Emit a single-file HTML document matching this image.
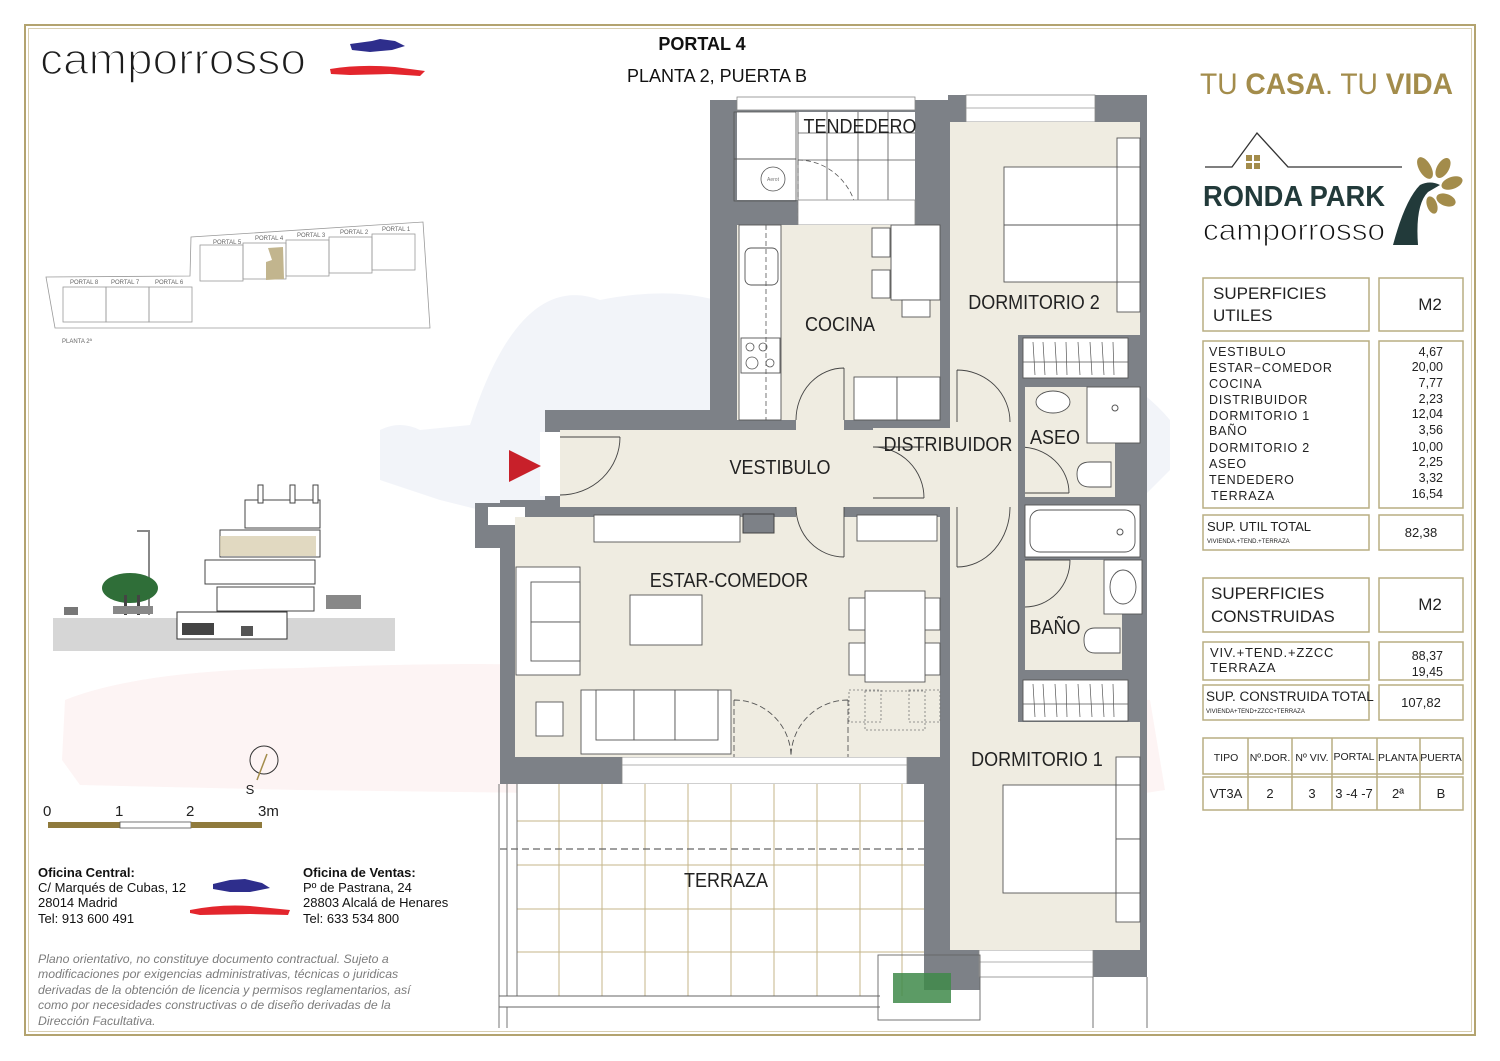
<!DOCTYPE html>
<html><head><meta charset="utf-8"><style>
html,body{margin:0;padding:0;background:#fff;}
svg{display:block;}
text{font-family:"Liberation Sans",sans-serif;}
</style></head><body>
<svg width="1500" height="1061" viewBox="0 0 1500 1061" xmlns="http://www.w3.org/2000/svg">
<rect width="1500" height="1061" fill="#fff"/>
<!-- faint watermarks -->
<path d="M380 430 Q400 420 420 430 L470 425 Q520 270 600 300 Q700 280 760 320 L800 300 L1000 330 Q1120 360 1170 420 L1170 470 L1140 500 L900 520 L520 520 L440 500 L380 480 Z" fill="#f2f4f9"/>
<path d="M65 700 Q140 670 300 668 Q500 660 600 668 L1150 700 L1165 790 L1100 800 L700 795 L300 790 L80 785 L62 760 Z" fill="#fdf4f4"/>
<!-- border -->
<rect x="25" y="25" width="1450" height="1010" fill="none" stroke="#b3a36f" stroke-width="2"/>
<rect x="28.5" y="28.5" width="1443" height="1003" fill="none" stroke="#d8ceb0" stroke-width="1"/>

<!-- header -->
<text x="40" y="74" font-size="44" fill="#1d1d1d" stroke="#fff" stroke-width="1.6" textLength="266" lengthAdjust="spacingAndGlyphs">camporrosso</text>
<path d="M350 44 L372 41 L380 39 L395 41 L405 46 L392 50 L370 52 L352 50 Z" fill="#2e2e8c"/>
<path d="M330 69 Q360 64 395 67 L425 71 L420 76 L390 74 L350 75 L331 74 Z" fill="#e3262d"/>
<text x="702" y="50" font-size="18" font-weight="bold" text-anchor="middle" fill="#111">PORTAL 4</text>
<text x="717" y="82" font-size="18" text-anchor="middle" fill="#111">PLANTA 2, PUERTA B</text>

<!-- right logo -->
<text x="1200" y="94" font-size="30" fill="#a38c4b" textLength="253" lengthAdjust="spacingAndGlyphs">TU <tspan font-weight="bold">CASA</tspan>. TU <tspan font-weight="bold">VIDA</tspan></text>
<polyline points="1205,167 1232,167 1257,133 1288,167 1402,167" fill="none" stroke="#333" stroke-width="1.3"/>
<rect x="1246" y="155" width="6" height="6" fill="#a38c4b"/><rect x="1254" y="155" width="6" height="6" fill="#a38c4b"/>
<rect x="1246" y="163" width="6" height="6" fill="#a38c4b"/><rect x="1254" y="163" width="6" height="6" fill="#a38c4b"/>
<text x="1203" y="206" font-size="29" font-weight="bold" fill="#223a3a" textLength="182" lengthAdjust="spacingAndGlyphs">RONDA PARK</text>
<text x="1203" y="240" font-size="30" fill="#111" stroke="#fff" stroke-width="1" textLength="182" lengthAdjust="spacingAndGlyphs">camporrosso</text>
<path d="M1393 245 Q1405 200 1420 185 Q1430 180 1440 185 L1428 192 Q1415 205 1418 245 Z" fill="#223a3a"/>
<ellipse cx="1425" cy="168" rx="6" ry="12" fill="#a38c4b" transform="rotate(-30 1425 168)"/>
<ellipse cx="1443" cy="168" rx="6" ry="11" fill="#a38c4b" transform="rotate(30 1443 168)"/>
<ellipse cx="1452" cy="183" rx="6" ry="11" fill="#a38c4b" transform="rotate(70 1452 183)"/>
<ellipse cx="1446" cy="200" rx="6" ry="10" fill="#a38c4b" transform="rotate(110 1446 200)"/>
<ellipse cx="1432" cy="205" rx="5" ry="9" fill="#a38c4b" transform="rotate(160 1432 205)"/>

<!-- tables -->
<g fill="none" stroke="#b9ad82" stroke-width="1.5">
<rect x="1203" y="278" width="166" height="53"/><rect x="1379" y="278" width="84" height="53"/>
<rect x="1203" y="341" width="166" height="167"/><rect x="1379" y="341" width="84" height="167"/>
<rect x="1203" y="515" width="166" height="35"/><rect x="1379" y="515" width="84" height="35"/>
<rect x="1203" y="578" width="166" height="54"/><rect x="1379" y="578" width="84" height="54"/>
<rect x="1203" y="642" width="166" height="38"/><rect x="1379" y="642" width="84" height="38"/>
<rect x="1203" y="685" width="166" height="35"/><rect x="1379" y="685" width="84" height="35"/>
<rect x="1203" y="738" width="260" height="36"/><rect x="1203" y="777" width="260" height="33"/>
<path d="M1248 738V810M1292 738V810M1332 738V810M1377 738V810M1420 738V810"/>
</g>
<g fill="#222">
<text x="1213" y="299" font-size="17">SUPERFICIES</text>
<text x="1213" y="321" font-size="17">UTILES</text>
<text x="1430" y="310" font-size="17" text-anchor="middle">M2</text>
<g font-size="12.5" letter-spacing="0.8">
<text x="1209" y="356">VESTIBULO</text><text x="1209" y="372">ESTAR−COMEDOR</text><text x="1209" y="388">COCINA</text>
<text x="1209" y="404">DISTRIBUIDOR</text><text x="1209" y="420">DORMITORIO  1</text><text x="1209" y="435">BAÑO</text>
<text x="1209" y="452">DORMITORIO  2</text><text x="1209" y="468">ASEO</text><text x="1209" y="484">TENDEDERO</text><text x="1211" y="500">TERRAZA</text>
</g>
<g font-size="12.5" text-anchor="end">
<text x="1443" y="356">4,67</text><text x="1443" y="371">20,00</text><text x="1443" y="387">7,77</text><text x="1443" y="403">2,23</text>
<text x="1443" y="418">12,04</text><text x="1443" y="434">3,56</text><text x="1443" y="451">10,00</text><text x="1443" y="466">2,25</text>
<text x="1443" y="482">3,32</text><text x="1443" y="498">16,54</text>
</g>
<text x="1207" y="531" font-size="13">SUP. UTIL TOTAL</text>
<text x="1207" y="543" font-size="6">VIVIENDA.+TEND.+TERRAZA</text>
<text x="1421" y="537" font-size="13" text-anchor="middle">82,38</text>
<text x="1211" y="599" font-size="17">SUPERFICIES</text>
<text x="1211" y="622" font-size="17">CONSTRUIDAS</text>
<text x="1430" y="610" font-size="17" text-anchor="middle">M2</text>
<text x="1210" y="657" font-size="13" letter-spacing="0.8">VIV.+TEND.+ZZCC</text>
<text x="1210" y="672" font-size="13" letter-spacing="0.8">TERRAZA</text>
<text x="1443" y="660" font-size="12.5" text-anchor="end">88,37</text>
<text x="1443" y="676" font-size="12.5" text-anchor="end">19,45</text>
<text x="1206" y="701" font-size="13.5">SUP. CONSTRUIDA TOTAL</text>
<text x="1206" y="713" font-size="6">VIVIENDA+TEND+ZZCC+TERRAZA</text>
<text x="1421" y="707" font-size="13" text-anchor="middle">107,82</text>
<g font-size="10.5" text-anchor="middle">
<text x="1226" y="761">TIPO</text><text x="1270" y="761">Nº.DOR.</text><text x="1312" y="761">Nº VIV.</text>
<text x="1354" y="760">PORTAL</text><text x="1398" y="761">PLANTA</text><text x="1441" y="761">PUERTA</text>
</g>
<g font-size="13" text-anchor="middle">
<text x="1226" y="798">VT3A</text><text x="1270" y="798">2</text><text x="1312" y="798">3</text>
<text x="1354" y="798">3 -4 -7</text><text x="1398" y="798">2ª</text><text x="1441" y="798">B</text>
</g>
</g>

<!-- mini site plan -->
<g fill="none" stroke="#9a9a9a" stroke-width="0.8">
<polygon points="46,277 190,276 191,237 423,222 430,328 55,328"/>
<rect x="63" y="287" width="43" height="35"/><rect x="106" y="287" width="43" height="35"/><rect x="149" y="287" width="43" height="35"/>
<rect x="200" y="245" width="43" height="36"/><rect x="243" y="243" width="43" height="36"/><rect x="286" y="240" width="43" height="36"/><rect x="329" y="237" width="43" height="36"/><rect x="372" y="234" width="43" height="36"/>
</g>
<path d="M268 248 L283 247 L284 279 L266 280 L266 262 L272 260 Z" fill="#c2b58e"/>
<g font-size="6" fill="#666">
<text x="70" y="284">PORTAL 8</text><text x="111" y="284">PORTAL 7</text><text x="155" y="284">PORTAL 6</text>
<text x="213" y="244">PORTAL 5</text><text x="255" y="240">PORTAL 4</text><text x="297" y="237">PORTAL 3</text><text x="340" y="234">PORTAL 2</text><text x="382" y="231">PORTAL 1</text>
<text x="62" y="343">PLANTA 2ª</text>
</g>

<!-- section drawing -->
<rect x="53" y="618" width="342" height="33" fill="#d6d6d6"/>
<rect x="177" y="612" width="110" height="27" fill="#fff" stroke="#333" stroke-width="1"/>
<g fill="#fff" stroke="#444" stroke-width="1">
<rect x="217" y="587" width="97" height="24"/>
<rect x="205" y="560" width="110" height="24"/>
<rect x="220" y="530" width="100" height="27"/>
<rect x="245" y="500" width="75" height="28"/>
<rect x="258" y="485" width="5" height="18"/><rect x="290" y="485" width="5" height="18"/><rect x="313" y="485" width="5" height="18"/>
</g>
<rect x="220" y="536" width="96" height="20" fill="#d9cfb1" opacity="0.8"/>
<rect x="148" y="531" width="2" height="84" fill="#888"/><rect x="137" y="530" width="13" height="2" fill="#888"/>
<ellipse cx="130" cy="588" rx="28" ry="15" fill="#2f6e38"/>
<rect x="124" y="595" width="3" height="20" fill="#444"/><rect x="137" y="595" width="3" height="20" fill="#444"/>
<rect x="113" y="606" width="40" height="8" fill="#888"/><rect x="64" y="607" width="14" height="8" fill="#777"/>
<rect x="182" y="623" width="32" height="12" fill="#444"/><rect x="241" y="626" width="12" height="10" fill="#555"/>
<rect x="326" y="595" width="35" height="14" fill="#888"/>
<!-- compass & scale -->
<circle cx="264" cy="760" r="14" fill="none" stroke="#333" stroke-width="1"/>
<line x1="267" y1="754" x2="257" y2="780" stroke="#a38c4b" stroke-width="1.5"/>
<text x="250" y="794" font-size="13" text-anchor="middle" fill="#222">S</text>
<g font-size="15" fill="#222"><text x="43" y="816">0</text><text x="115" y="816">1</text><text x="186" y="816">2</text><text x="258" y="816">3m</text></g>
<rect x="48" y="822" width="72" height="6" fill="#8f7a3c"/><rect x="120" y="822" width="71" height="6" fill="#fff" stroke="#555" stroke-width="0.8"/><rect x="191" y="822" width="71" height="6" fill="#8f7a3c"/>

<!-- offices -->
<g font-size="13" fill="#111">
<text x="38" y="877" font-weight="bold">Oficina Central:</text>
<text x="38" y="892">C/ Marqués de Cubas, 12</text><text x="38" y="907">28014 Madrid</text><text x="38" y="923">Tel: 913 600 491</text>
<text x="303" y="877" font-weight="bold">Oficina de Ventas:</text>
<text x="303" y="892">Pº de Pastrana, 24</text><text x="303" y="907">28803 Alcalá de Henares</text><text x="303" y="923">Tel: 633 534 800</text>
</g>
<path d="M213 884 L230 880 L245 879 L262 883 L270 888 L250 892 L230 892 L213 889 Z" fill="#2e2e8c"/>
<path d="M190 910 Q220 904 250 906 L290 910 L288 915 L250 914 L200 915 L190 913 Z" fill="#e3262d"/>
<g font-size="12.3" font-style="italic" fill="#7c7c7c">
<text x="38" y="963">Plano orientativo, no constituye documento contractual. Sujeto a</text>
<text x="38" y="978">modificaciones por exigencias administrativas, técnicas o juridicas</text>
<text x="38" y="994">derivadas de la obtención de licencia y permisos reglamentarios, así</text>
<text x="38" y="1009">como por necesidades constructivas o de diseño derivadas de la</text>
<text x="38" y="1025">Dirección Facultativa.</text>
</g>

<!-- ===== FLOOR PLAN ===== -->
<g fill="#7d8187">
<rect x="710" y="100" width="240" height="332"/>
<rect x="948" y="95" width="199" height="882"/>
<rect x="545" y="410" width="405" height="110"/>
<rect x="500" y="500" width="465" height="284"/>
<rect x="920" y="757" width="60" height="233"/>
<rect x="475" y="503" width="65" height="45"/>
</g>
<rect x="1140" y="130" width="7" height="847" fill="#7d8187"/>
<!-- windows -->
<rect x="737" y="97" width="178" height="13" fill="#fff" stroke="#888" stroke-width="0.8"/>
<rect x="966" y="95" width="129" height="27" fill="#fff" stroke="#888" stroke-width="0.8"/>
<line x1="966" y1="108" x2="1095" y2="108" stroke="#999" stroke-width="0.8"/>
<rect x="979" y="950" width="114" height="27" fill="#fff" stroke="#888" stroke-width="0.8"/>
<line x1="979" y1="962" x2="1093" y2="962" stroke="#999" stroke-width="0.8"/>
<rect x="622" y="757" width="285" height="27" fill="#fff" stroke="#888" stroke-width="0.8"/>
<line x1="622" y1="765" x2="907" y2="765" stroke="#999" stroke-width="0.8"/>
<rect x="488" y="507" width="37" height="18" fill="#fff"/>
<!-- tendedero -->
<rect x="737" y="112" width="178" height="88" fill="#fff"/>
<g stroke="#555" stroke-width="0.8" fill="none">
<path d="M798 112V200M827 112V200M858 112V200M888 112V200M798 133H915M798 160H915"/>
<rect x="734" y="112" width="62" height="47"/><rect x="734" y="159" width="62" height="42"/>
<circle cx="773" cy="179" r="12"/>
<path d="M798 160 A60 63 0 0 1 858 223" stroke-dasharray="5 3"/>
<line x1="798" y1="160" x2="798" y2="223" stroke-dasharray="5 3"/>
</g>
<text x="773" y="181" font-size="5" text-anchor="middle" fill="#777">Aerot</text>
<rect x="798" y="200" width="117" height="25" fill="#fff" stroke="#888" stroke-width="0.8"/>
<!-- rooms beige -->
<g fill="#efece1">
<rect x="737" y="225" width="203" height="195"/>
<rect x="560" y="430" width="460" height="77"/>
<rect x="796" y="418" width="48" height="14"/>
<rect x="873" y="428" width="147" height="79"/>
<rect x="950" y="122" width="190" height="213"/>
<rect x="950" y="330" width="68" height="400"/>
<rect x="1018" y="447" width="97" height="50"/>
<rect x="1025" y="387" width="90" height="110"/>
<rect x="515" y="517" width="425" height="240"/>
<rect x="796" y="505" width="48" height="14"/>
<rect x="957" y="505" width="53" height="14"/>
<rect x="950" y="722" width="190" height="228"/>
<rect x="1025" y="560" width="97" height="110"/>
</g>
<rect x="540" y="432" width="20" height="64" fill="#fff"/>
<!-- kitchen furniture -->
<g stroke="#555" stroke-width="0.9" fill="#fff">
<rect x="739" y="225" width="42" height="195"/>
<rect x="745" y="248" width="33" height="37" rx="6"/>
<rect x="741" y="338" width="39" height="35"/>
<rect x="891" y="225" width="49" height="75"/>
<rect x="872" y="228" width="18" height="29"/><rect x="872" y="270" width="18" height="28"/>
<rect x="902" y="300" width="28" height="17"/>
<rect x="854" y="377" width="43" height="43"/><rect x="897" y="377" width="43" height="43"/>
</g>
<line x1="766" y1="225" x2="766" y2="420" stroke="#555" stroke-dasharray="5 3" stroke-width="0.8"/>
<g fill="none" stroke="#555" stroke-width="0.8"><circle cx="750" cy="347" r="4"/><circle cx="763" cy="347" r="4"/><circle cx="752" cy="363" r="6"/><circle cx="770" cy="363" r="4"/></g>
<!-- doors -->
<g fill="none" stroke="#444" stroke-width="0.9">
<path d="M844 368 V420 M796 420 A48 52 0 0 1 844 368"/>
<path d="M844 507 V557 M796 507 A48 50 0 0 0 844 557"/>
<path d="M560 437 H620 M620 437 A60 58 0 0 1 560 495"/>
<path d="M873 447 H924 M924 498 A51 51 0 0 0 873 447 M873 498 H924"/>
<path d="M957 370 V422 M957 370 A53 52 0 0 1 1010 422"/>
<path d="M957 507 V567 M1010 507 A53 60 0 0 1 957 567"/>
<path d="M1020 447 A49 46 0 0 1 1069 493 M1025 493 H1069"/>
<path d="M1025 560 H1070 M1070 560 A45 47 0 0 1 1025 607"/>
</g>
<!-- dorm2 -->
<g stroke="#555" stroke-width="0.9" fill="#fff">
<rect x="1117" y="138" width="23" height="174"/>
<rect x="1004" y="167" width="114" height="115"/>
<line x1="1004" y1="225" x2="1118" y2="225"/>
<rect x="1117" y="167" width="23" height="58"/><rect x="1117" y="225" width="23" height="57"/>
</g>
<!-- bath block -->
<rect x="1018" y="335" width="7" height="385" fill="#7d8187"/>
<rect x="1115" y="443" width="25" height="62" fill="#7d8187"/>
<g stroke="#555" stroke-width="0.9" fill="#fff">
<rect x="1023" y="338" width="105" height="40"/>
<rect x="1087" y="387" width="53" height="56"/>
<ellipse cx="1053" cy="402" rx="17" ry="11"/>
<path d="M1111 462 H1090 Q1077 462 1077 474 Q1077 487 1090 487 H1111 Z"/>
<rect x="1025" y="505" width="115" height="52" fill="#fff"/>
<rect x="1030" y="510" width="105" height="42" rx="10"/>
<rect x="1104" y="560" width="38" height="54"/>
<ellipse cx="1123" cy="587" rx="13" ry="17"/>
<path d="M1120 628 H1095 Q1084 628 1084 640 Q1084 653 1095 653 H1120 Z"/>
<rect x="1023" y="680" width="105" height="41"/>
</g>
<g stroke="#555" stroke-width="0.7"><path d="M1033 342L1035 375M1043 342L1045 375M1055 342L1057 375M1066 342L1067 375M1078 342L1080 375M1090 342L1092 375M1102 342L1104 375M1113 342L1114 375M1023 362H1128"/>
<path d="M1033 684L1035 717M1043 684L1045 717M1055 684L1057 717M1066 684L1067 717M1078 684L1080 717M1090 684L1092 717M1102 684L1104 717M1113 684L1114 717M1023 704H1128"/></g>
<circle cx="1115" cy="408" r="3" fill="none" stroke="#555"/><circle cx="1120" cy="532" r="3" fill="none" stroke="#555"/>
<!-- dorm1 -->
<g stroke="#555" stroke-width="0.9" fill="#fff">
<rect x="1116" y="757" width="24" height="165"/>
<rect x="1003" y="785" width="113" height="108"/>
<rect x="1116" y="785" width="24" height="54"/><rect x="1116" y="839" width="24" height="54"/>
</g>
<!-- estar furniture -->
<g stroke="#555" stroke-width="0.9" fill="#fff">
<rect x="594" y="515" width="146" height="27"/>
<rect x="857" y="515" width="80" height="26"/>
<rect x="516" y="567" width="64" height="108"/><rect x="531" y="582" width="49" height="40"/><rect x="531" y="622" width="49" height="39"/>
<rect x="630" y="595" width="72" height="50"/>
<rect x="849" y="598" width="32" height="32"/><rect x="849" y="643" width="32" height="32"/>
<rect x="909" y="598" width="31" height="32"/><rect x="909" y="643" width="31" height="32"/>
<rect x="865" y="591" width="60" height="91"/>
<rect x="581" y="690" width="150" height="64"/><rect x="596" y="690" width="38" height="50"/><rect x="634" y="690" width="41" height="50"/><rect x="675" y="690" width="43" height="50"/>
<rect x="536" y="702" width="27" height="34"/>
</g>
<rect x="743" y="514" width="31" height="19" fill="#7d8187" stroke="#444"/>
<g stroke="#777" stroke-width="0.8" fill="none" stroke-dasharray="2 2">
<rect x="865" y="691" width="60" height="39"/><rect x="849" y="690" width="32" height="32"/><rect x="909" y="690" width="31" height="32"/>
</g>
<g stroke="#555" stroke-width="0.9" fill="none" stroke-dasharray="6 3">
<path d="M734 700 V757 M734 700 A57 57 0 0 1 791 757 M848 700 V757 M848 700 A57 57 0 0 0 791 757"/>
</g>
<!-- terraza -->
<rect x="517" y="784" width="407" height="212" fill="#fff"/>
<g stroke="#c4b68a" stroke-width="1">
<path d="M559 784V996M602 784V996M645 784V996M688 784V996M731 784V996M774 784V996M817 784V996M860 784V996M902 784V996"/>
<path d="M517 821H924M517 865H924M517 909H924M517 952H924"/>
</g>
<line x1="500" y1="849" x2="924" y2="849" stroke="#666" stroke-width="1.3" stroke-dasharray="7 4"/>
<g stroke="#666" stroke-width="0.9" fill="none">
<path d="M499 784V1028M507 784V996M517 784V996"/>
<path d="M499 996H880M499 1007H880M507 1028V1007"/>
<rect x="878" y="955" width="102" height="65"/>
<path d="M1093 977V1028M1147 977V1028"/>
</g>
<rect x="893" y="973" width="58" height="30" fill="#3f8a4a" opacity="0.85"/>
<!-- entrance arrow -->
<polygon points="509,450 541,466 509,482" fill="#c8202a"/>
<!-- labels -->
<g font-size="20" fill="#222" text-anchor="middle" transform="scale(0.9 1)">
<text x="955.6" y="133">TENDEDERO</text>
<text x="933.3" y="331">COCINA</text>
<text x="1148.9" y="309">DORMITORIO 2</text>
<text x="1172.2" y="444">ASEO</text>
<text x="1053.3" y="451">DISTRIBUIDOR</text>
<text x="866.7" y="474">VESTIBULO</text>
<text x="810" y="587">ESTAR-COMEDOR</text>
<text x="1172.2" y="634">BAÑO</text>
<text x="1152.2" y="766">DORMITORIO 1</text>
<text x="806.7" y="887">TERRAZA</text>
</g>
</svg>
</body></html>
